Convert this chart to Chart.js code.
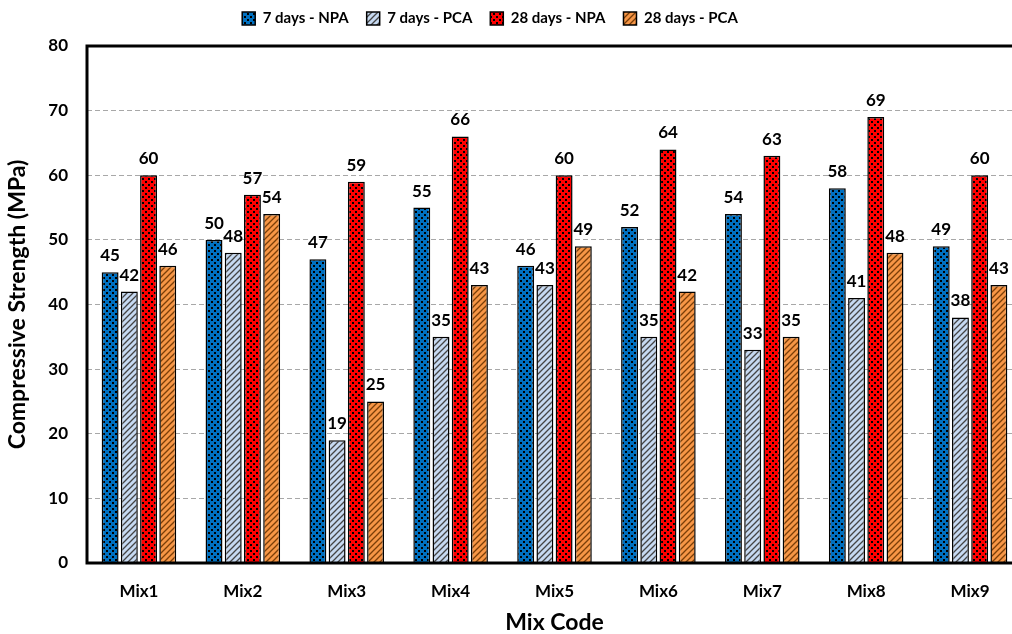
<!DOCTYPE html>
<html>
<head>
<meta charset="utf-8">
<script src="https://cdn.jsdelivr.net/npm/chart.js@4/dist/chart.umd.min.js"></script>
<style>
  body { margin: 0; background: #fff; overflow: hidden; }
  #wrap { width: 1024px; height: 634px; }
</style>
</head>
<body>
<div id="wrap"><canvas id="myChart" width="1024" height="634"></canvas></div>
<script>
var mixLabels = ['Mix1', 'Mix2', 'Mix3', 'Mix4', 'Mix5', 'Mix6', 'Mix7', 'Mix8', 'Mix9'];
var npa7  = [45, 50, 47, 55, 46, 52, 54, 58, 49];
var pca7  = [42, 48, 19, 35, 43, 35, 33, 41, 38];
var npa28 = [60, 57, 59, 66, 60, 64, 63, 69, 60];
var pca28 = [46, 54, 25, 43, 49, 42, 35, 48, 43];

var FONT = 'Lato, "Open Sans", sans-serif';

// dotted fill for NPA bars
function dots(color) {
  var c = document.createElement('canvas');
  c.width = 6; c.height = 6;
  var g = c.getContext('2d');
  g.fillStyle = color; g.fillRect(0, 0, 6, 6);
  g.fillStyle = '#000';
  g.fillRect(1, 1, 2, 2);
  g.fillRect(4, 4, 2, 2);
  return g.createPattern(c, 'repeat');
}
// diagonal hatch for PCA bars
function hatch(color, line) {
  var c = document.createElement('canvas');
  c.width = 6; c.height = 6;
  var g = c.getContext('2d');
  g.fillStyle = color; g.fillRect(0, 0, 6, 6);
  g.strokeStyle = line; g.lineWidth = 1.3;
  g.beginPath();
  g.moveTo(0, 6); g.lineTo(6, 0);
  g.moveTo(-3, 3); g.lineTo(3, -3);
  g.moveTo(3, 9); g.lineTo(9, 3);
  g.stroke();
  return g.createPattern(c, 'repeat');
}

var valueLabels = {
  id: 'valueLabels',
  afterDatasetsDraw: function(chart) {
    var ctx = chart.ctx;
    ctx.save();
    ctx.font = 'bold 17px ' + FONT;
    ctx.fillStyle = '#000';
    ctx.textAlign = 'center';
    ctx.textBaseline = 'bottom';
    chart.data.datasets.forEach(function(ds, i) {
      chart.getDatasetMeta(i).data.forEach(function(bar, j) {
        ctx.fillText(ds.data[j], bar.x, bar.y - 8);
      });
    });
    ctx.restore();
  }
};

var frame = {
  id: 'frame',
  afterDraw: function(chart) {
    var a = chart.chartArea, ctx = chart.ctx;
    ctx.save();
    ctx.strokeStyle = '#000';
    ctx.lineWidth = 3;
    ctx.strokeRect(a.left, a.top, a.right - a.left, a.bottom - a.top);
    ctx.restore();
  }
};

// nudge the legend up and left a bit, like the original
var legendShift = {
  id: 'legendShift',
  afterLayout: function(chart) {
    var l = chart.legend;
    l.top -= 10; l.bottom -= 10;
    l.left -= 21; l.right -= 21;
  }
};

var ctx = document.getElementById('myChart').getContext('2d');
var chart = new Chart(ctx, {
  type: 'bar',
  data: {
    labels: mixLabels,
    datasets: [
      { label: '7 days - NPA', data: npa7, backgroundColor: dots('#0070C0') },
      { label: '7 days - PCA', data: pca7, backgroundColor: hatch('#C6D9F1', '#444') },
      { label: '28 days - NPA', data: npa28, backgroundColor: dots('#FF0000') },
      { label: '28 days - PCA', data: pca28, backgroundColor: hatch('#F79646', '#7a3e08') }
    ].map(function(d) {
      d.borderColor = '#000';
      d.borderWidth = 1.5;
      d.categoryPercentage = 0.74;
      d.barPercentage = 0.88;
      return d;
    })
  },
  options: {
    responsive: false,
    animation: false,
    layout: { padding: { left: 0, right: 2, top: 3, bottom: 0 } },
    plugins: {
      legend: {
        position: 'top',
        labels: {
          font: { family: FONT, size: 15, weight: 'bold' },
          color: '#000',
          boxWidth: 13,
          boxHeight: 13,
          padding: 18
        }
      },
      tooltip: { enabled: false }
    },
    scales: {
      x: {
        grid: { display: false },
        border: { display: false },
        afterFit: function(s) { s.height = 71; },
        ticks: { font: { family: FONT, size: 17, weight: 'bold' }, color: '#000', padding: 10 },
        title: { display: true, text: 'Mix Code', font: { family: FONT, size: 23, weight: 'bold', lineHeight: 1 }, color: '#000', padding: { top: 0, bottom: 0 } }
      },
      y: {
        min: 0, max: 80,
        afterFit: function(s) { s.width = 87; },
        ticks: { stepSize: 10, font: { family: FONT, size: 17, weight: 'bold' }, color: '#000', padding: 19 },
        grid: { color: '#a8a8a8', lineWidth: 1, drawTicks: false },
        border: { display: false, dash: [5, 3] },
        title: { display: true, text: 'Compressive Strength (MPa)', font: { family: FONT, size: 23, weight: 'bold' }, color: '#000', padding: { top: 4, bottom: 4 } }
      }
    }
  },
  plugins: [valueLabels, frame, legendShift]
});
</script>
</body>
</html>
